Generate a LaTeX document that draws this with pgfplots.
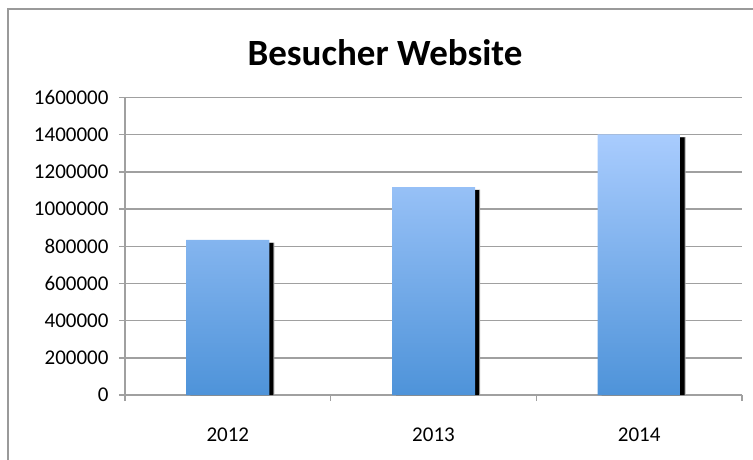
\documentclass[border=0pt]{standalone}
\usepackage{pgfplots}
\pgfplotsset{compat=1.18}
\usepackage{fontspec}
\setmainfont{Carlito}
\definecolor{bartop}{HTML}{A9CCFE}
\definecolor{barbot}{HTML}{4E93D9}
\definecolor{gridgray}{HTML}{A0A0A0}
\definecolor{framegray}{HTML}{9A9A9A}
\begin{document}
\begin{tikzpicture}[x=1pt,y=1pt]
\useasboundingbox (0,0) rectangle (753,459);
\draw[framegray, line width=1.5pt] (8,-20) -- (8,450) -- (780,450);
\node[font=\fontsize{37}{44}\selectfont\bfseries] at (385,406) {Besucher Website};
\begin{axis}[
  at={(125pt,64pt)}, anchor=south west,
  scale only axis, width=617pt, height=297.5pt,
  xmin=-0.5, xmax=2.5, ymin=0, ymax=1600000,
  axis x line*=bottom, axis y line*=left,
  axis line style={gridgray, line width=1.5pt, -},
  ytick={0,200000,...,1600000},
  ymajorgrids, grid style={gridgray, line width=1.5pt},
  scaled y ticks=false,
  yticklabel style={/pgf/number format/fixed, /pgf/number format/1000 sep={}, font=\fontsize{21}{25}\selectfont, xshift=-7pt},
  /pgf/number format/assume math mode=true,
  tick align=outside, major tick length=6pt,
  tick style={gridgray, line width=1.5pt},
  xtick={-0.5,0.5,1.5,2.5}, xticklabels={},
  extra x ticks={0,1,2}, extra x tick labels={2012,2013,2014},
  extra x tick style={major tick length=0pt, grid=none, xticklabel style={font=\fontsize{21}{25}\selectfont, yshift=-29pt}},
  clip=false,
]
\addplot[ybar, bar width=83pt, bar shift=5pt, fill=gray!70, draw=none] coordinates {(0,820000) (1,1104000) (2,1387000)};
\addplot[ybar, bar width=83pt, bar shift=4pt, fill=black, draw=none] coordinates {(0,818000) (1,1102000) (2,1385000)};
\addplot[ybar, bar width=83pt, bar shift=0pt, draw=none, top color=bartop, bottom color=barbot] coordinates {(0,834000) (1,1118000) (2,1402000)};
\end{axis}
\end{tikzpicture}
\end{document}
